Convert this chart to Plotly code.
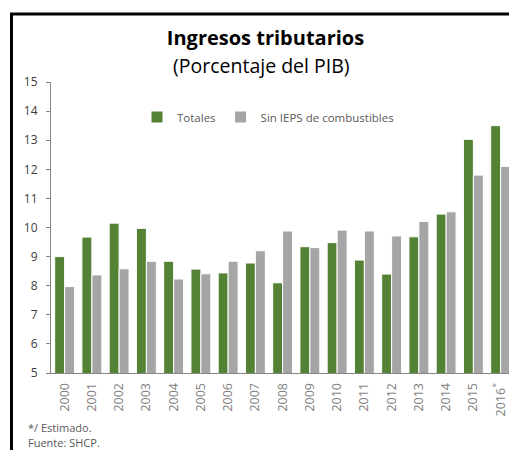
import plotly.graph_objects as go

years = ["2000", "2001", "2002", "2003", "2004", "2005", "2006", "2007", "2008",
         "2009", "2010", "2011", "2012", "2013", "2014", "2015", "2016"]
tick_labels = ["2000", "2001", "2002", "2003", "2004", "2005", "2006", "2007", "2008",
               "2009", "2010", "2011", "2012", "2013", "2014", "2015", "2016<sup>*</sup>"]
totales = [9.0, 9.67, 10.15, 9.97, 8.84, 8.57, 8.44, 8.78, 8.10,
           9.34, 9.48, 8.88, 8.40, 9.68, 10.46, 13.03, 13.50]
sin_ieps = [7.97, 8.37, 8.58, 8.84, 8.23, 8.41, 8.84, 9.20, 9.88,
            9.31, 9.91, 9.88, 9.71, 10.21, 10.54, 11.80, 12.10]

W, H = 509, 450
L, R, T, B = 51, 0, 82, 77
pw, ph = W - L - R, H - T - B


def px_x(x):
    return (x - L) / pw


def px_y(y):
    return (H - B - y) / ph


fig = go.Figure()
fig.add_trace(go.Bar(x=years, y=totales, name="Totales",
                     marker=dict(color="#548235", line=dict(color="white", width=1))))
fig.add_trace(go.Bar(x=years, y=sin_ieps, name="Sin IEPS de combustibles",
                     marker=dict(color="#A5A5A5", line=dict(color="white", width=1))))

font_family = "Open Sans"

fig.update_layout(
    width=W, height=H,
    margin=dict(l=L, r=R, t=T, b=B, pad=0),
    paper_bgcolor="white", plot_bgcolor="white",
    barmode="group", bargap=0.27, bargroupgap=0,
    font=dict(family=font_family, color="#595959", size=12),
    title=dict(text="<b>Ingresos tributarios</b>", x=265.5 / W, xanchor="center",
               y=1 - 38 / H, yanchor="middle",
               font=dict(family=font_family, size=20, color="#000000")),
    showlegend=True,
    legend=dict(orientation="h", x=px_x(268), xanchor="center", y=px_y(117), yanchor="middle",
                font=dict(size=11.5, color="#595959"), itemwidth=30,
                bgcolor="rgba(0,0,0,0)", traceorder="normal"),
    xaxis=dict(type="category", range=[-0.5, -0.5 + pw / 27.25],
               tickmode="array", tickvals=years, ticktext=tick_labels,
               tickangle=-90, showline=True, linecolor="#868686", linewidth=1,
               ticks="", ticklabelstandoff=4, showgrid=False,
               tickfont=dict(size=12.5, color="#7f7f7f")),
    yaxis=dict(range=[5, 15], dtick=1, tick0=5, showline=True, linecolor="#868686",
               linewidth=1, ticks="outside", ticklen=4, tickcolor="#868686",
               showgrid=False, zeroline=False, ticklabelstandoff=6,
               tickfont=dict(size=12, color="#404040")),
    annotations=[
        dict(text="(Porcentaje del PIB)", xref="paper", yref="paper",
             x=px_x(261), y=px_y(65), xanchor="center", yanchor="middle",
             showarrow=False, font=dict(family=font_family, size=19.5, color="#000000")),
        dict(text="*/ Estimado.", xref="paper", yref="paper",
             x=px_x(26), y=px_y(427), xanchor="left", yanchor="middle",
             showarrow=False, font=dict(size=11, color="#595959")),
        dict(text="Fuente: SHCP.", xref="paper", yref="paper",
             x=px_x(26), y=px_y(442), xanchor="left", yanchor="middle",
             showarrow=False, font=dict(size=11, color="#595959")),
    ],
    shapes=[
        dict(type="line", xref="paper", yref="paper",
             x0=px_x(11.5), x1=px_x(11.5), y0=px_y(470), y1=px_y(14),
             line=dict(color="black", width=3)),
        dict(type="line", xref="paper", yref="paper",
             x0=px_x(10), x1=px_x(530), y0=px_y(14), y1=px_y(14),
             line=dict(color="black", width=3)),
    ],
)

fig.write_html(
    "out.html",
    config={"displayModeBar": False},
    post_script="document.body.style.margin='0';document.body.style.overflow='hidden';",
)
